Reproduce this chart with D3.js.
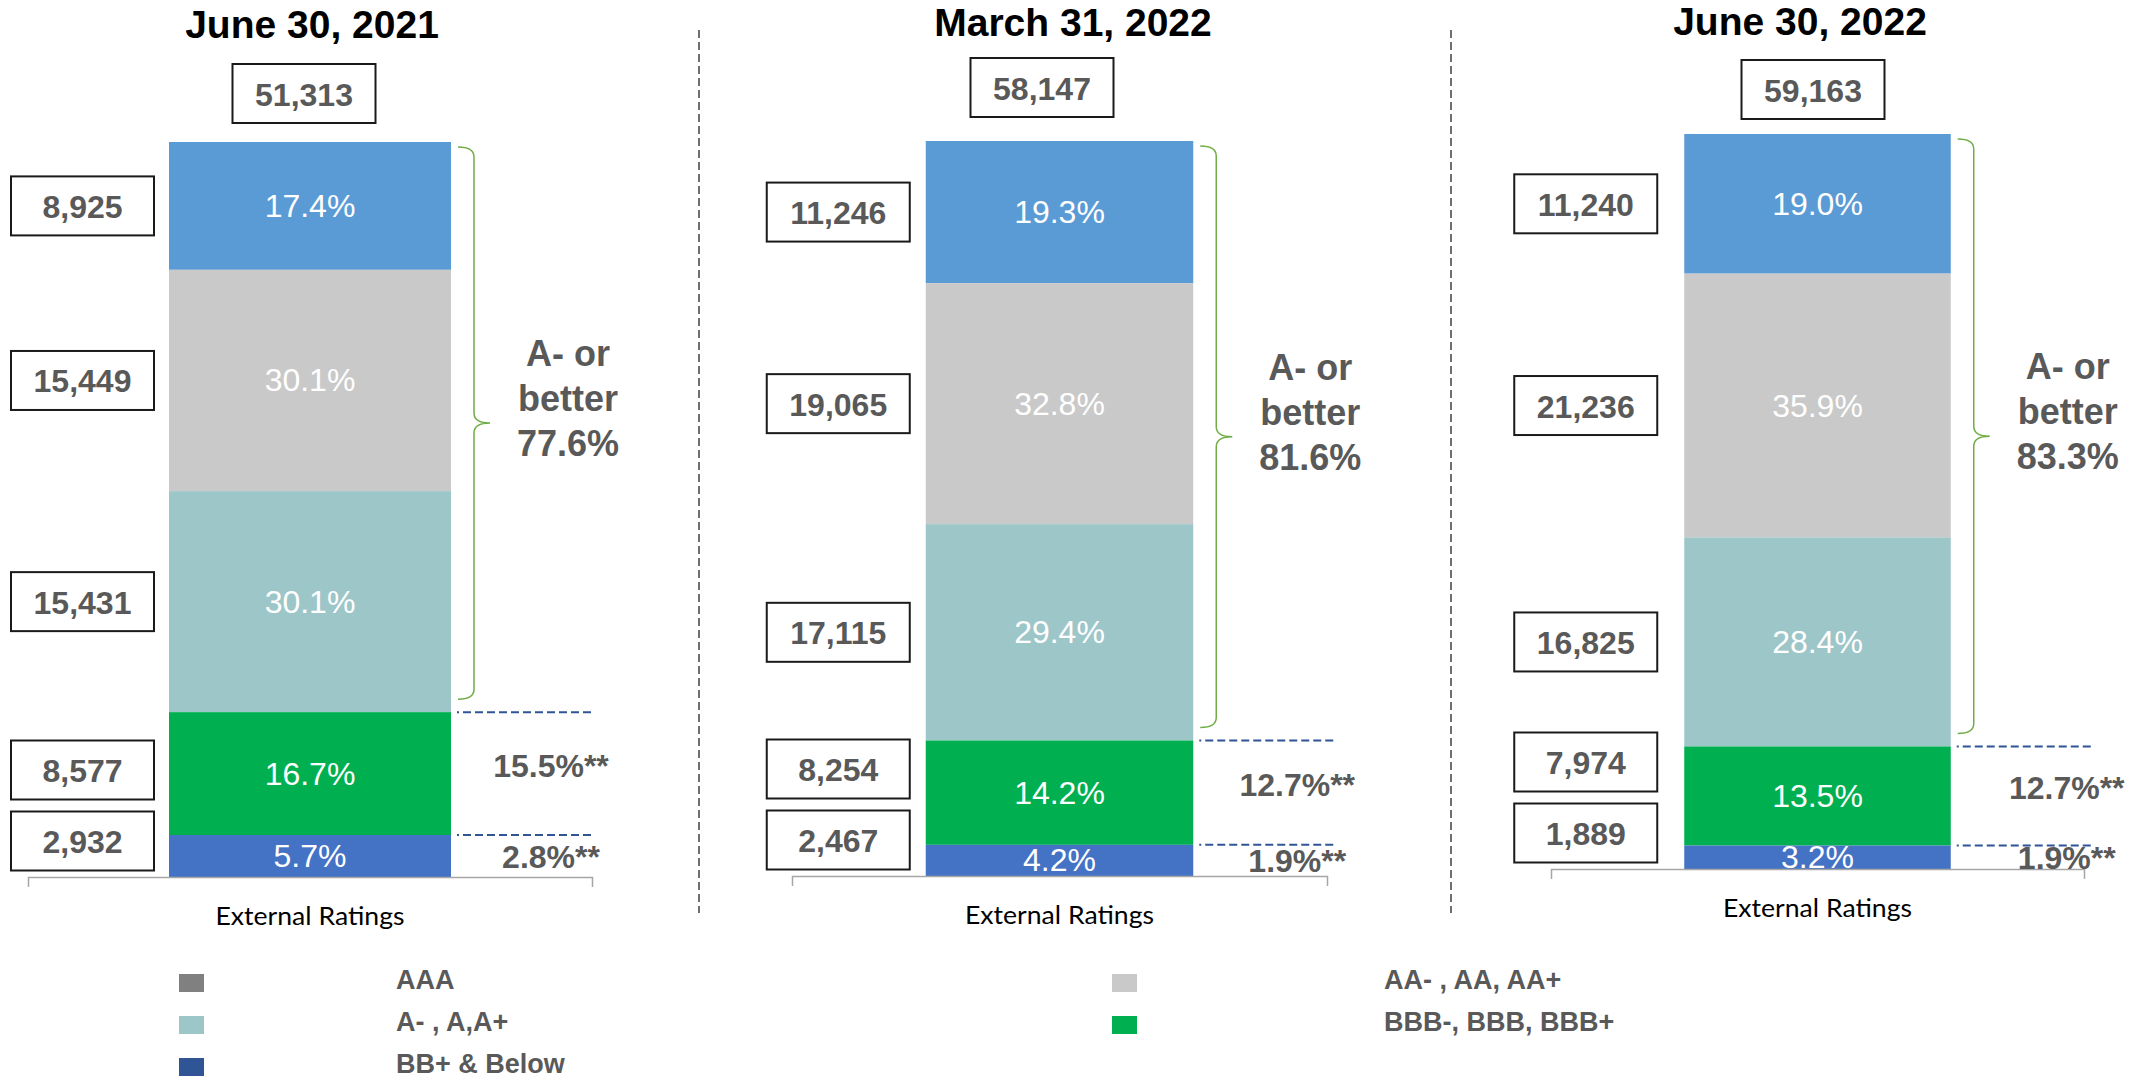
<!DOCTYPE html>
<html lang="en">

<head>
    <meta charset="UTF-8">
    <meta name="viewport" content="width=device-width, initial-scale=1.0">
    <title>External Ratings</title>
    <style>
        body {
            margin: 0;
            background: #fff;
        }

        svg {
            display: block;
            font-family: "Liberation Sans", Arial, sans-serif;
        }

        .title {
            font-size: 39px;
            font-weight: bold;
            fill: #000;
            text-anchor: middle;
        }

        .num {
            font-size: 32px;
            font-weight: bold;
            fill: #595959;
            text-anchor: middle;
        }

        .pct {
            font-size: 32px;
            fill: #fff;
            text-anchor: middle;
        }

        .note {
            font-size: 36px;
            font-weight: bold;
            fill: #595959;
            text-anchor: middle;
        }

        .legend text {
            font-size: 27px;
            font-weight: bold;
            fill: #595959;
        }
    </style>

    <script src="https://d3js.org/d3.v7.min.js"></script>
</head>

<body>
    <div id="chart"></div>

    <script>
        // data
        const CATEGORY = "External Ratings";
        const DATES = ["June 30, 2021", "March 31, 2022", "June 30, 2022"];
        const TOTALS = [51313, 58147, 59163];
        const RATINGS = ["AAA", "AA- , AA, AA+", "A- , A,A+", "BBB-, BBB, BBB+", "BB+ & Below"];

        // amounts per rating bucket, top of the bar (AAA) down to BB+ & Below
        const VALUES_2021_06 = [8925, 15449, 15431, 8577, 2932];
        const VALUES_2022_03 = [11246, 19065, 17115, 8254, 2467];
        const VALUES_2022_06 = [11240, 21236, 16825, 7974, 1889];
        const VALUES = [VALUES_2021_06, VALUES_2022_03, VALUES_2022_06];

        const SHARES_2021_06 = [17.4, 30.1, 30.1, 16.7, 5.7];
        const SHARES_2022_03 = [19.3, 32.8, 29.4, 14.2, 4.2];
        const SHARES_2022_06 = [19.0, 35.9, 28.4, 13.5, 3.2];
        const SHARES = [SHARES_2021_06, SHARES_2022_03, SHARES_2022_06];

        const A_OR_BETTER = [77.6, 81.6, 83.3];
        const BBB_NOTE = [15.5, 12.7, 12.7];
        const BB_NOTE = [2.8, 1.9, 1.9];

        // styles
        const BAR_COLORS = ["#5b9bd5", "#c9c9c9", "#9dc6c9", "#00b050", "#4472c4"];
        const LEGEND_COLORS = ["#808080", "#c9c9c9", "#9dc6c9", "#00b050", "#2f5597"];

        // layout of the three panels
        const panels = [
            { x0: 28, x1: 592, base: 877, titleX: 312, titleY: 38, totalX: 304, totalY: 64, boxGap: 15, noteDx: 100 },
            { x0: 792, x1: 1327, base: 876, titleX: 1073, titleY: 36, totalX: 1042, totalY: 58, boxGap: 16, noteDx: 104 },
            { x0: 1551, x1: 2084, base: 869, titleX: 1800, titleY: 35, totalX: 1813, totalY: 60, boxGap: 27, noteDx: 116 }
        ];
        const BAR_H = 735;
        const BOX_W = 143, BOX_H = 59;

        const fmt = d3.format(".1f");

        const svg = d3.select("#chart")
            .append("svg")
            .attr("width", 2146)
            .attr("height", 1078);

        // dashed separators between panels
        svg.selectAll("line.sep")
            .data([699, 1451])
            .join("line")
            .attr("class", "sep")
            .attr("x1", d => d).attr("x2", d => d)
            .attr("y1", 30).attr("y2", 913)
            .attr("stroke", "#404040")
            .attr("stroke-width", 1.5)
            .attr("stroke-dasharray", "8,4");

        panels.forEach((p, k) => {
            const x = d3.scaleBand()
                .domain([CATEGORY])
                .range([p.x0, p.x1])
                .paddingInner(0)
                .paddingOuter(0.5);

            const y = d3.scaleLinear()
                .domain([0, TOTALS[k]])
                .range([p.base, p.base - BAR_H]);

            const vals = VALUES[k];
            const segs = vals.map((v, i) => {
                const lo = d3.sum(vals.slice(i + 1));
                return { i: i, lo: lo, hi: lo + v, v: v };
            });

            const bx = x(CATEGORY), bw = x.bandwidth();
            const cx = bx + bw / 2, xr = bx + bw;
            const mid = d => (y(d.lo) + y(d.hi)) / 2;

            const g = svg.append("g");

            // stacked bar
            g.selectAll("rect.seg")
                .data(segs)
                .join("rect")
                .attr("class", "seg")
                .attr("x", bx)
                .attr("width", bw)
                .attr("y", d => y(d.hi))
                .attr("height", d => y(d.lo) - y(d.hi))
                .attr("fill", d => BAR_COLORS[d.i]);

            g.selectAll("text.pct")
                .data(segs)
                .join("text")
                .attr("class", "pct")
                .attr("x", cx)
                .attr("y", d => mid(d) + 11)
                .text(d => fmt(SHARES[k][d.i]) + "%");

            // axis with the bracket-shaped domain line
            const ax = g.append("g")
                .attr("transform", "translate(0," + p.base + ")")
                .call(d3.axisBottom(x).tickSizeInner(0).tickSizeOuter(10).tickPadding(30));
            ax.select(".domain").attr("stroke", "#a6a6a6").attr("stroke-width", 1.5);
            ax.selectAll(".tick line").remove();
            ax.selectAll(".tick text")
                .attr("fill", "#000")
                .attr("font-size", 25)
                .attr("font-family", "Lato, 'Open Sans', sans-serif")
                .attr("textLength", 189)
                .attr("lengthAdjust", "spacingAndGlyphs");

            // title
            g.append("text")
                .attr("class", "title")
                .attr("x", p.titleX)
                .attr("y", p.titleY)
                .text(DATES[k]);

            // total box
            g.append("rect")
                .attr("x", p.totalX - BOX_W / 2)
                .attr("y", p.totalY)
                .attr("width", BOX_W)
                .attr("height", BOX_H)
                .attr("fill", "#fff")
                .attr("stroke", "#1a1a1a")
                .attr("stroke-width", 2);
            g.append("text")
                .attr("class", "num")
                .attr("x", p.totalX)
                .attr("y", p.totalY + BOX_H / 2 + 12)
                .text(d3.format(",")(TOTALS[k]));

            // value boxes at the left, pushed up where the small segments crowd
            const centers = segs.map(mid);
            let prev = p.base - 36 + 71;
            for (let i = segs.length - 1; i >= 0; i--) {
                centers[i] = Math.min(centers[i], prev - 71);
                prev = centers[i];
            }
            const boxX = bx - p.boxGap - BOX_W;
            g.selectAll("rect.vbox")
                .data(segs)
                .join("rect")
                .attr("class", "vbox")
                .attr("x", boxX)
                .attr("y", d => centers[d.i] - BOX_H / 2)
                .attr("width", BOX_W)
                .attr("height", BOX_H)
                .attr("fill", "#fff")
                .attr("stroke", "#1a1a1a")
                .attr("stroke-width", 2);
            g.selectAll("text.vnum")
                .data(segs)
                .join("text")
                .attr("class", "num vnum")
                .attr("x", boxX + BOX_W / 2)
                .attr("y", d => centers[d.i] + 12)
                .text(d => d3.format(",")(d.v));

            // curly brace over the A- or better buckets
            const top = y(segs[0].hi) + 5, bot = y(segs[2].lo) - 13;
            const bm = (top + bot) / 2, r = 10;
            const xa = xr + 7, xs = xr + 23, xp = xr + 39;
            g.append("path")
                .attr("d", `M${xa},${top} Q${xs},${top} ${xs},${top + r} V${bm - r} Q${xs},${bm} ${xp},${bm}` +
                    ` Q${xs},${bm} ${xs},${bm + r} V${bot - r} Q${xs},${bot} ${xa},${bot}`)
                .attr("fill", "none")
                .attr("stroke", "#70ad47")
                .attr("stroke-width", 1.5);

            g.selectAll("text.abetter")
                .data(["A- or", "better", fmt(A_OR_BETTER[k]) + "%"])
                .join("text")
                .attr("class", "note abetter")
                .attr("x", xr + 117)
                .attr("y", (d, i) => bm - 12 + (i - 1) * 45)
                .text(d => d);

            // dashed markers at the top of BBB and BB+ segments
            g.selectAll("line.mark")
                .data([segs[3], segs[4]])
                .join("line")
                .attr("class", "mark")
                .attr("x1", xr + 6)
                .attr("x2", xr + 141)
                .attr("y1", d => y(d.hi))
                .attr("y2", d => y(d.hi))
                .attr("stroke", "#2f5597")
                .attr("stroke-width", 2)
                .attr("stroke-dasharray", "8,4")
                .attr("stroke-dashoffset", 6);

            g.append("text")
                .attr("class", "num")
                .attr("x", xr + p.noteDx)
                .attr("y", mid(segs[3]) + 3)
                .text(fmt(BBB_NOTE[k]) + "%**");
            g.append("text")
                .attr("class", "num")
                .attr("x", xr + p.noteDx)
                .attr("y", mid(segs[4]) + 12)
                .text(fmt(BB_NOTE[k]) + "%**");
        });

        // legend, two columns
        const legendCols = [{ sx: 179, tx: 396 }, { sx: 1112, tx: 1384 }];
        const legendRows = [974, 1016, 1058];
        const legend = svg.append("g").attr("class", "legend");
        const item = legend.selectAll("g")
            .data(RATINGS)
            .join("g")
            .attr("transform", (d, i) => "translate(0," + legendRows[Math.floor(i / 2)] + ")");
        item.append("rect")
            .attr("x", (d, i) => legendCols[i % 2].sx)
            .attr("width", 25)
            .attr("height", 18)
            .attr("fill", (d, i) => LEGEND_COLORS[i]);
        item.append("text")
            .attr("x", (d, i) => legendCols[i % 2].tx)
            .attr("y", 15)
            .text(d => d);
    </script>
</body>

</html>
